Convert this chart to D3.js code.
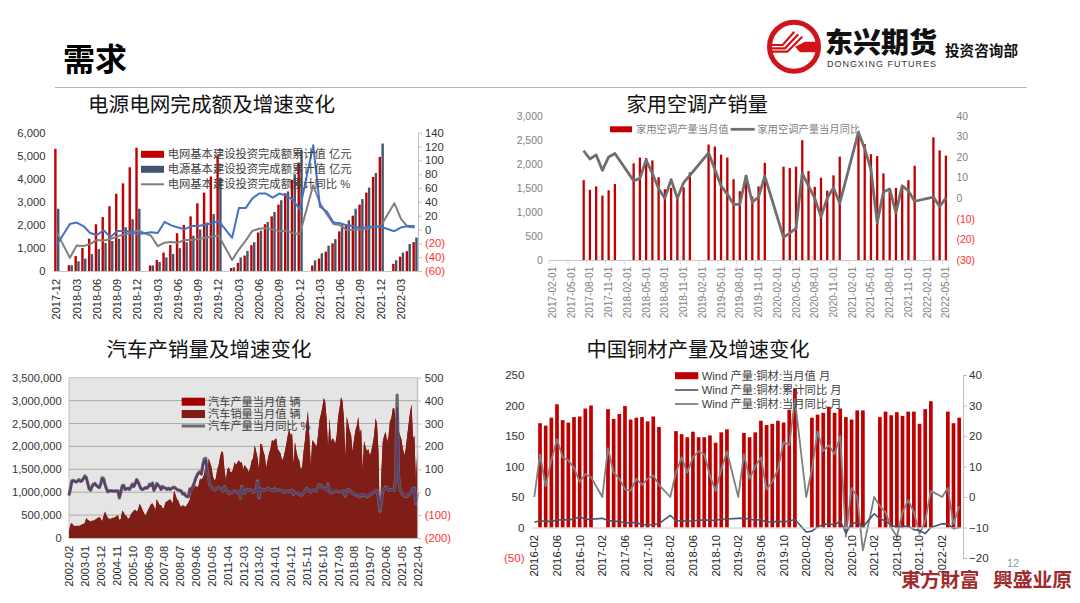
<!DOCTYPE html>
<html lang="zh-CN">
<head>
<meta charset="utf-8">
<script src="https://cdn.jsdelivr.net/npm/d3@7"></script>
<style>
body { margin: 0; background: #fff; }
text { font-family: "Liberation Sans", "Noto Sans CJK SC", sans-serif; }
</style>
</head>
<body>
<div id="chart"></div>
<script>
// ---- chart 1: power / grid investment ----
const gridInvest = [5300,
  null,250,650,1000,1400,2030,2340,2810,3350,3800,4500,5350,
  null,240,480,800,1130,1640,2000,2370,2940,3400,4100,5000,
  null,130,350,670,1120,1670,2030,2370,2880,3370,3950,4700,
  null,240,540,840,1200,1720,2020,2400,2880,3400,4080,4950,
  null,310,620,860,1250];
const powerInvest = [2700,
  null,250,420,540,730,950,1220,1300,1400,1900,2250,2700,
  null,240,390,590,740,990,1250,1530,1800,2100,2470,4050,
  null,160,590,870,1250,1750,2130,2560,3070,3450,4200,5230,
  null,460,770,1100,1380,2050,2200,2700,3120,3620,4250,5530,
  null,470,800,1170,1450];
const powerYoy = [-23,
  null,8,10,5,-5,-8,-1,-11,-2,-2,-3,-7,
  null,-4,-5,11,6,3,0.5,5,5,7,9,12.5,
  null,-12,31,31,45,52,52,46,52,49,43,29,
  null,122,33,26,10,9,6,5,1.5,4,4,4,
  null,-2.5,3,5,5];
const gridYoy = [-3,
  null,-41,-23,-24,-21,-15,-16,-14,-10,-7,-5,-1,
  null,-9,-24,-19,-18,-19,-15,-15,-14,-12,-10,-9,
  null,-44,-29,-16,-2,1,2,0,-2,-2,-5,-7,
  null,64,38,22,8,6,-1,0,0,1.5,4,5,
  null,38,15,4,3];
const invLabels = ["2017-12","2018-03","2018-06","2018-09","2018-12","2019-03","2019-06","2019-09","2019-12","2020-03","2020-06","2020-09","2020-12","2021-03","2021-06","2021-09","2021-12","2022-03"];
const invLeftTicks = [0,1000,2000,3000,4000,5000,6000];
const invRightTicks = [-60,-40,-20,0,20,40,60,80,100,120,140];

// ---- chart 2: household air conditioners ----
const acOutput = [null,null,null,null,null,
  1660,1460,1530,1340,1450,1580,null,null,
  2010,2130,2120,2070,1720,1470,1500,1350,1510,1820,null,null,
  2400,2360,2190,2130,1680,1430,1770,1320,1530,2020,null,null,
  1940,1910,1940,2490,1850,1520,1710,1440,1760,2150,null,null,
  2640,2410,2200,2160,1800,1430,1500,1500,1660,1960,null,null,
  2550,2280,2170];
const acYoy = [null,null,null,null,null,
  23,19,21,13.5,20,21.7,null,null,
  8.5,9.5,18.5,12,4.7,0,9,0,7.5,11,null,null,
  22,14,6,2,-3,-3,10.7,-2,0.5,10.7,null,null,
  -19,-17,-14.7,12,6,0,-9,0,5,-2.5,null,null,
  32,24,14,-12,3,4.5,-7,6,3.5,-1.5,null,null,
  0.5,-4,0];
const acLabels = ["2017-02-01","2017-05-01","2017-08-01","2017-11-01","2018-02-01","2018-05-01","2018-08-01","2018-11-01","2019-02-01","2019-05-01","2019-08-01","2019-11-01","2020-02-01","2020-05-01","2020-08-01","2020-11-01","2021-02-01","2021-05-01","2021-08-01","2021-11-01","2022-02-01","2022-05-01"];
const acLeftTicks = [0,500,1000,1500,2000,2500,3000];
const acRightTicks = [-30,-20,-10,0,10,20,30,40];

// ---- chart 3: cars, values in 10k vehicles, first row starts 2002-02 ----
const carSales = [
  15,30,33,28,26,27,27,27,28,30,31,
  33,44,40,38,36,38,38,40,42,44,46,43,
  36,48,58,50,44,42,42,44,44,46,48,50,
  40,42,60,56,50,48,42,44,52,56,60,62,
  58,62,75,70,62,55,49,55,62,68,74,76,
  70,60,85,78,72,72,65,66,78,80,82,85,
  82,75,103,95,85,82,72,68,72,70,68,73,
  78,85,105,112,112,115,110,115,130,128,132,140,
  166,125,173,165,155,135,126,130,150,160,178,188,
  188,150,126,150,155,145,144,150,166,160,165,170,
  165,166,150,160,155,150,144,155,170,175,203,190,
  175,148,206,205,190,180,153,170,185,195,214,212,
  215,218,195,190,185,170,175,190,205,225,237,225,
  228,160,210,190,175,170,150,155,190,215,250,278,
  220,158,214,210,205,199,225,257,270,285,306,298,
  260,196,262,210,218,215,205,225,265,285,308,300,
  262,174,265,250,235,225,188,215,235,246,265,230,
  238,148,212,200,190,195,180,190,205,225,262,250,
  190,33,140,210,225,232,210,222,255,262,284,283,
  255,245,235,225,215,195,181,195,225,250,275,292,
  218,224,123,192];
const carOutput = [
  14,29,32,27,25,26,26,26,27,29,30,
  32,43,39,37,35,37,37,39,41,43,45,42,
  35,47,57,49,43,41,41,43,43,45,47,49,
  39,41,59,55,49,47,41,43,51,55,59,61,
  57,60,74,69,61,54,48,54,61,67,73,75,
  69,59,84,77,71,71,64,65,77,79,81,84,
  81,74,104,94,84,81,71,67,71,69,67,72,
  77,84,104,111,111,114,109,114,129,127,131,139,
  165,124,175,164,154,134,125,129,149,159,177,190,
  187,149,125,149,154,144,143,149,165,159,164,169,
  164,165,149,159,154,149,143,154,169,174,202,189,
  174,147,205,204,189,179,152,169,184,194,213,211,
  214,217,194,189,184,169,174,189,204,224,236,224,
  227,159,209,189,174,169,149,154,189,214,249,277,
  219,157,213,209,204,198,224,256,269,284,305,297,
  259,195,261,209,217,214,204,224,264,284,307,299,
  261,173,264,249,234,224,187,214,234,245,264,229,
  237,147,211,199,189,194,179,189,204,224,261,249,
  189,32,139,209,224,231,209,221,254,261,283,282,
  254,244,234,224,214,194,180,194,224,249,274,291,
  217,223,122,191];
const carOutputYoy = [
  -13,15,50,52,48,45,50,55,48,50,60,
  71,65,40,15,9,25,35,38,30,25,20,35,
  63,60,35,15,2,5,6,6,5,5,5,6,
  -25,0,28,30,12,15,18,12,22,35,25,38,
  55,45,30,15,12,15,20,18,22,35,30,40,
  8,20,38,30,25,12,25,20,18,12,18,12,
  15,20,22,18,12,10,8,5,-8,-5,-15,-20,
  -20,15,10,25,40,60,75,85,90,80,120,145,
  148,90,60,30,20,15,10,12,18,22,15,12,
  5,25,12,5,-5,0,-3,2,5,2,0,0,
  -25,25,0,-5,10,12,8,10,5,0,8,8,
  50,-25,15,12,10,8,12,18,15,10,12,5,
  15,8,8,10,8,8,2,0,5,5,2,5,
  10,-10,2,-2,-5,-8,-13,-12,0,5,16,12,
  5,0,8,8,8,5,25,33,30,20,18,15,
  8,36,4,-2,-1,2,4,5,3,2,1,1,
  6,-18,3,12,8,3,-3,-8,-12,-10,-17,-20,
  -12,-16,-10,-15,-20,-15,-12,-5,-3,2,3,8,
  -25,-83,-45,3,15,22,20,8,12,10,10,8,
  60,424,70,10,-2,-10,-15,-20,-18,-8,-5,5,
  16,18,-50,-5];
const carSalesYoy = [
  -15,13,48,50,46,44,48,52,46,48,58,
  68,62,38,14,8,23,33,36,28,24,18,33,
  60,57,33,14,3,6,7,5,4,6,6,5,
  -22,2,26,28,11,14,17,13,21,33,24,36,
  52,43,28,16,13,14,19,17,21,33,28,38,
  9,19,36,28,24,13,24,19,17,13,17,11,
  14,18,20,17,11,9,7,4,-7,-6,-14,-18,
  -18,14,9,24,38,58,72,82,86,77,115,138,
  140,86,58,29,19,14,11,13,17,21,14,11,
  6,23,11,4,-4,1,-2,3,4,3,1,1,
  -23,23,1,-4,9,11,7,9,4,1,7,7,
  46,-22,14,11,9,7,11,17,14,9,11,4,
  14,7,7,9,7,7,3,1,4,4,3,4,
  9,-9,3,-1,-4,-7,-12,-11,1,4,15,11,
  6,1,7,7,7,6,24,31,28,19,17,14,
  7,33,5,-1,0,3,5,4,4,3,2,2,
  5,-16,4,11,7,4,-2,-7,-11,-9,-15,-18,
  -11,-14,-9,-14,-18,-14,-11,-4,-2,3,4,7,
  -23,-75,-42,4,14,20,19,9,11,9,9,7,
  55,367,62,9,-1,-9,-14,-18,-16,-7,-4,4,
  14,16,-46,-4];
const carLabels = ["2002-02","2003-01","2003-12","2004-11","2005-10","2006-09","2007-08","2008-07","2009-06","2010-05","2011-04","2012-03","2013-02","2014-01","2014-12","2015-11","2016-10","2017-09","2018-08","2019-07","2020-06","2021-05","2022-04"];
const carLeftTicks = [0,500000,1000000,1500000,2000000,2500000,3000000,3500000];
const carRightTicks = [-200,-100,0,100,200,300,400,500];

// ---- chart 4: copper products, first value 2016-02 ----
const copperOutput = [null,
  171,167,180,202,176,172,181,182,195,200,null,null,
  194,178,186,199,177,180,181,174,182,165,null,null,
  158,153,148,157,148,148,151,139,156,161,null,null,
  155,148,156,175,168,170,175,172,193,228,null,null,
  180,185,188,198,188,195,181,177,192,192,null,null,
  181,190,184,189,183,190,190,170,194,207,null,null,
  190,171,180];
const copperCumYoy = [-8.3,
  -7.8,-8,-8,-7.5,-7.5,-7.5,-7.2,-6.5,-7.3,-7.3,null,-7,
  -7.7,-8,-8,-8.5,-8.4,-8.4,-9,-9.2,-9.1,-8.7,null,-6,
  -7.8,-7.8,-7.9,-7.8,-7.6,-7.5,-7.6,-7.7,-7.2,-7.2,null,-7,
  -7,-7.2,-7.6,-7.4,-8.2,-8.1,-8,-8.1,-7.9,-7.4,null,-11.5,
  -11.2,-9.8,-9,-8.8,-9.2,-7.8,-11.8,-8.7,-8.4,-9.8,null,-5.5,
  -7.2,-7.8,-9.2,-10,-9.7,-9.5,-10.7,-11,-12,-10,null,-8.8,
  -8.8,-10.4,-10];
const copperMonthYoy = [0,
  14,3.5,12,19,13,12,9.5,5,7.5,6.5,null,0,
  16,8,6,2.5,2,6,4,6,7,4,null,0,
  8,13,8,13,15,14,7,2,9,15,null,0,
  14,6,10,13,2.5,5,9,18,17,32,null,0,
  9,21.5,15,17,14,20,-13,3,0,-17.5,null,0,
  -3,-5,-10,-13,-5,-1,-5,-12,-8,2,null,0,
  3,-9,-3];
const copperLabels = ["2016-02","2016-06","2016-10","2017-02","2017-06","2017-10","2018-02","2018-06","2018-10","2019-02","2019-06","2019-10","2020-02","2020-06","2020-10","2021-02","2021-06","2021-10","2022-02"];
const copperLeftTicks = [-50,0,50,100,150,200,250];
const copperRightTicks = [-20,-10,0,10,20,30,40];

const red = "#c00000", slate = "#44546a", lineBlue = "#4472c4", lineGrey = "#7f7f7f";

var svg = d3.select("#chart").append("svg")
    .attr("width", 1080)
    .attr("height", 603);

// month labels for a band axis
function monthRange(year, month, n) {
    return d3.range(n).map(function(i) {
        var m = month - 1 + i;
        return (year + Math.floor(m / 12)) + "-" + String(m % 12 + 1).padStart(2, "0");
    });
}

// excel style (20) numbers in red
function bracket(fmt) {
    return function(d) { return d < 0 ? "(" + fmt(-d) + ")" : fmt(d); };
}
var comma = d3.format(",");

function leftAxis(y, x0, ticks, fmt, size, color, pad) {
    var g = svg.append("g")
        .attr("transform", "translate(" + x0 + ",0)")
        .call(d3.axisLeft(y).tickValues(ticks).tickFormat(fmt).tickSize(0).tickPadding(pad));
    g.select(".domain").remove();
    g.selectAll("text").style("font-size", size + "px").attr("fill", function(d) { return d < 0 ? "#ff3030" : color; });
    return g;
}

function rightAxis(y, x0, ticks, fmt, size, color, pad, showLine) {
    var g = svg.append("g")
        .attr("transform", "translate(" + x0 + ",0)")
        .call(d3.axisRight(y).tickValues(ticks).tickFormat(fmt).tickSize(showLine ? 4 : 0).tickSizeOuter(0).tickPadding(showLine ? pad - 4 : pad));
    g.selectAll("text").style("font-size", size + "px").attr("fill", function(d) { return (d < 0 && fmt(d)[0] == "(") ? "#ff3030" : color; });
    g.select(".domain").attr("stroke", showLine ? "#bfbfbf" : "none");
    g.selectAll("line").attr("stroke", "#bfbfbf");
    return g;
}

function bottomAxis(x, y0, labels, size, color, pad) {
    var g = svg.append("g")
        .attr("transform", "translate(0," + y0 + ")")
        .call(d3.axisBottom(x).tickValues(labels).tickSize(0));
    g.select(".domain").attr("stroke", "#c8c8c8");
    g.selectAll("text")
        .style("font-size", size + "px")
        .style("text-anchor", "end")
        .attr("fill", color)
        .attr("y", 0)
        .attr("dy", "0.35em")
        .attr("transform", "rotate(-90) translate(" + (-pad) + ",0)");
    return g;
}

function drawBars(x, y, cats, values, color, left, width) {
    svg.append("g").selectAll("rect")
        .data(values.map(function(v, i) { return {cat: cats[i], v: v}; }).filter(function(d) { return d.v != null; }))
        .enter().append("rect")
        .attr("x", function(d) { return x(d.cat) + left; })
        .attr("width", width)
        .attr("y", function(d) { return y(d.v); })
        .attr("height", function(d) { return y(0) - y(d.v); })
        .attr("fill", color);
}

function drawLine(x, y, cats, values, color, width) {
    var pts = values.map(function(v, i) { return {cat: cats[i], v: v}; }).filter(function(d) { return d.v != null; });
    var off = x.bandwidth ? x.bandwidth() / 2 : 0;
    svg.append("path")
        .datum(pts)
        .attr("fill", "none")
        .attr("stroke", color)
        .attr("stroke-width", width)
        .attr("stroke-linejoin", "round")
        .attr("d", d3.line().x(function(d) { return x(d.cat) + off; }).y(function(d) { return y(d.v); }));
}

function legendRect(x, y, w, h, color, label, size, textX, textColor) {
    svg.append("rect").attr("x", x).attr("y", y - h / 2).attr("width", w).attr("height", h).attr("fill", color);
    legendText(textX, y, label, size, textColor);
}

function legendLine(x, y, w, h, color, label, size, textX, textColor) {
    svg.append("line").attr("x1", x).attr("x2", x + w).attr("y1", y).attr("y2", y).attr("stroke", color).attr("stroke-width", h);
    legendText(textX, y, label, size, textColor);
}

function legendText(x, y, label, size, color) {
    svg.append("text").attr("x", x).attr("y", y).attr("dy", "0.36em")
        .style("font-size", size + "px").attr("fill", color).text(label);
}

function chartTitle(x, y, label, size) {
    svg.append("text").attr("x", x).attr("y", y).attr("dy", "0.36em")
        .style("font-size", size + "px").attr("fill", "#111").text(label);
}

// ---- page header ----
svg.append("text").attr("x", 63).attr("y", 71)
    .style("font-size", "32px").style("font-weight", 700).attr("fill", "#000").text("需求");
svg.append("line").attr("x1", 55).attr("x2", 1027).attr("y1", 87.5).attr("y2", 87.5)
    .attr("stroke", "#b5b5b5").attr("stroke-width", 1);

// logo
svg.append("clipPath").attr("id", "logoClip").append("circle").attr("cx", 794).attr("cy", 46.7).attr("r", 25);
svg.append("circle").attr("cx", 794).attr("cy", 46.7).attr("r", 24.5)
    .attr("fill", "#fff").attr("stroke", "#d0141a").attr("stroke-width", 5);
var logo = svg.append("g").attr("clip-path", "url(#logoClip)");
[[[768, 45], [782.7, 45], [794.3, 31.7]], [[768, 48.3], [785, 48.3], [798.3, 34.3]], [[768, 51.7], [787.3, 51.7], [802.3, 36.7]]].forEach(function(p) {
    logo.append("path").attr("d", d3.line()(p)).attr("fill", "none").attr("stroke", "#d0141a").attr("stroke-width", 2.2);
});
logo.append("path").attr("d", d3.line()([[805, 41.7], [822, 41.7], [822, 52.3], [800, 52.3], [795, 46.7]]) + "Z").attr("fill", "#d0141a");
svg.append("text").attr("x", 825).attr("y", 53).style("font-size", "28px").style("font-weight", 900).attr("fill", "#111").text("东兴期货");
svg.append("text").attr("x", 827).attr("y", 67).style("font-size", "9px").style("letter-spacing", "1px").attr("fill", "#333").text("DONGXING FUTURES");
svg.append("text").attr("x", 945).attr("y", 56).style("font-size", "14.6px").style("font-weight", 700).attr("fill", "#111").text("投资咨询部");

// ---- chart 1 ----
chartTitle(88, 105, "电源电网完成额及增速变化", 20.6);
var invCats = monthRange(2017, 12, gridInvest.length);
var invX = d3.scaleBand().domain(invCats).range([53, 418]);
var invY = d3.scaleLinear().domain([0, 6000]).range([271, 132.7]);
var invY2 = d3.scaleLinear().domain([-60, 140]).range([271, 132.7]);
drawBars(invX, invY, invCats, gridInvest, red, 1.2, 2.4);
drawBars(invX, invY, invCats, powerInvest, slate, 4, 2.4);
drawLine(invX, invY2, invCats, gridYoy, lineGrey, 2);
drawLine(invX, invY2, invCats, powerYoy, lineBlue, 2);
bottomAxis(invX, 271, invLabels, 11, "#262626", 8);
leftAxis(invY, 53, invLeftTicks, comma, 11.3, "#333", 7.5);
rightAxis(invY2, 418, invRightTicks, bracket(d3.format("d")), 11.3, "#333", 7, true);
legendRect(141, 154.3, 23, 7, red, "电网基本建设投资完成额累计值 亿元", 11.3, 167.7, "#404040");
legendRect(141, 169.3, 23, 7, slate, "电源基本建设投资完成额累计值 亿元", 11.3, 167.7, "#404040");
legendLine(141, 184.3, 23, 2, lineGrey, "电网基本建设投资完成额累计同比 %", 11.3, 167.7, "#404040");

// ---- chart 2 ----
chartTitle(626.5, 105, "家用空调产销量", 20.2);
var acCats = monthRange(2017, 2, acOutput.length);
var acX = d3.scaleBand().domain(acCats).range([549.3, 949]);
var acY = d3.scaleLinear().domain([0, 3000]).range([260, 115.7]);
var acY2 = d3.scaleLinear().domain([-30, 40]).range([260, 115.7]);
drawBars(acX, acY, acCats, acOutput, red, 2, 2.3);
drawLine(acX, acY2, acCats, acYoy, "#6f6f6f", 2.8);
var acAxis = bottomAxis(acX, 260, acLabels.map(function(d) { return d.slice(0, 7); }), 10.1, "#7f7f7f", 6.7);
acAxis.selectAll("text").text(function(d) { return d + "-01"; });
acAxis.selectAll(".tick").append("line")
    .attr("x1", -acX.bandwidth() / 2).attr("x2", -acX.bandwidth() / 2)
    .attr("y1", 0).attr("y2", 4).attr("stroke", "#d9d9d9");
leftAxis(acY, 549.3, acLeftTicks, comma, 10.4, "#7f7f7f", 6.6);
rightAxis(acY2, 949, acRightTicks, bracket(d3.format("d")), 10.4, "#7f7f7f", 7.5, false);
legendRect(610, 129.3, 22, 6, red, "家用空调产量当月值", 10.3, 636, "#7f7f7f");
legendLine(730.7, 129.3, 24, 2.8, "#6f6f6f", "家用空调产量当月同比", 10.3, 757.3, "#7f7f7f");

// ---- chart 3 ----
chartTitle(106.5, 350, "汽车产销量及增速变化", 20.5);
var carCats = monthRange(2002, 2, carSales.length);
var carX = d3.scalePoint().domain(carCats).range([69, 417.3]);
var carY = d3.scaleLinear().domain([0, 3500000]).range([538, 377.7]);
var carY2 = d3.scaleLinear().domain([-200, 500]).range([538, 377.7]);
svg.append("rect").attr("x", 69).attr("y", 377.7).attr("width", 348.3).attr("height", 160.3)
    .attr("fill", "#e5e5e5").attr("stroke", "#c4c4c4");
svg.append("g").selectAll("line").data(carLeftTicks.slice(1, -1)).enter().append("line")
    .attr("x1", 69).attr("x2", 417.3)
    .attr("y1", function(d) { return carY(d); }).attr("y2", function(d) { return carY(d); })
    .attr("stroke", "#acacac");
function carArea(values, color) {
    svg.append("path").datum(values)
        .attr("fill", color)
        .attr("d", d3.area()
            .x(function(d, i) { return carX(carCats[i]); })
            .y0(carY(0))
            .y1(function(d) { return carY(d * 10000); }));
}
carArea(carOutput, "#a50000");
carArea(carSales, "#7f1d17");
drawLine(carX, carY2, carCats, carOutputYoy, "#6b6b6b", 3.2);
drawLine(carX, carY2, carCats, carSalesYoy, "#5d3c68", 2);
bottomAxis(carX, 538, carLabels, 11.2, "#262626", 7.7);
leftAxis(carY, 69, carLeftTicks, comma, 11.2, "#333", 7.3);
rightAxis(carY2, 417.3, carRightTicks, bracket(d3.format("d")), 11.2, "#333", 7.5, true);
legendRect(181.7, 401.7, 23.3, 8, "#a50000", "汽车产量当月值 辆", 11.2, 208, "#404040");
legendRect(181.7, 414, 23.3, 8, "#7f1d17", "汽车销量当月值 辆", 11.2, 208, "#404040");
legendLine(181.7, 426, 23.3, 3, "#6b6b6b", "汽车产量当月同比 %", 11.2, 208, "#404040");

// ---- chart 4 ----
chartTitle(586.5, 350, "中国铜材产量及增速变化", 20.3);
var cuCats = monthRange(2016, 2, copperOutput.length);
var cuX = d3.scaleBand().domain(cuCats).range([531.5, 962]);
var cuY = d3.scaleLinear().domain([-50, 250]).range([558, 375]);
var cuY2 = d3.scaleLinear().domain([-20, 40]).range([558, 375]);
drawBars(cuX, cuY, cuCats, copperOutput, red, 1, 3.7);
drawLine(cuX, cuY2, cuCats, copperMonthYoy, lineGrey, 1.8);
drawLine(cuX, cuY2, cuCats, copperCumYoy, slate, 1.6);
bottomAxis(cuX, cuY(0), copperLabels, 11.3, "#262626", 7.5);
leftAxis(cuY, 531.5, copperLeftTicks, bracket(d3.format("d")), 11.6, "#333", 7);
rightAxis(cuY2, 963, copperRightTicks, d3.format("d"), 11.6, "#333", 6, true);
legendRect(675, 375.7, 23.3, 7, red, "Wind 产量:铜材:当月值 月", 11.3, 701.7, "#404040");
legendLine(675, 390, 23.3, 1.6, slate, "Wind 产量:铜材:累计同比 月", 11.3, 701.7, "#404040");
legendLine(675, 404, 23.3, 1.8, lineGrey, "Wind 产量:铜材:当月同比 月", 11.3, 701.7, "#404040");

// ---- footer ----
svg.append("text").attr("x", 1007).attr("y", 567).style("font-size", "11px").attr("fill", "#8a9aa8").text("12");
svg.append("text").attr("x", 901).attr("y", 587).attr("lang", "zh-TW")
    .style("font-size", "19.6px").style("font-weight", 700).attr("fill", "#a02a2e").text("東方財富");
svg.append("text").attr("x", 993).attr("y", 587).attr("lang", "zh-TW")
    .style("font-size", "19.8px").style("font-weight", 700).attr("fill", "#a02a2e").text("興盛业原");
</script>
</body>
</html>
